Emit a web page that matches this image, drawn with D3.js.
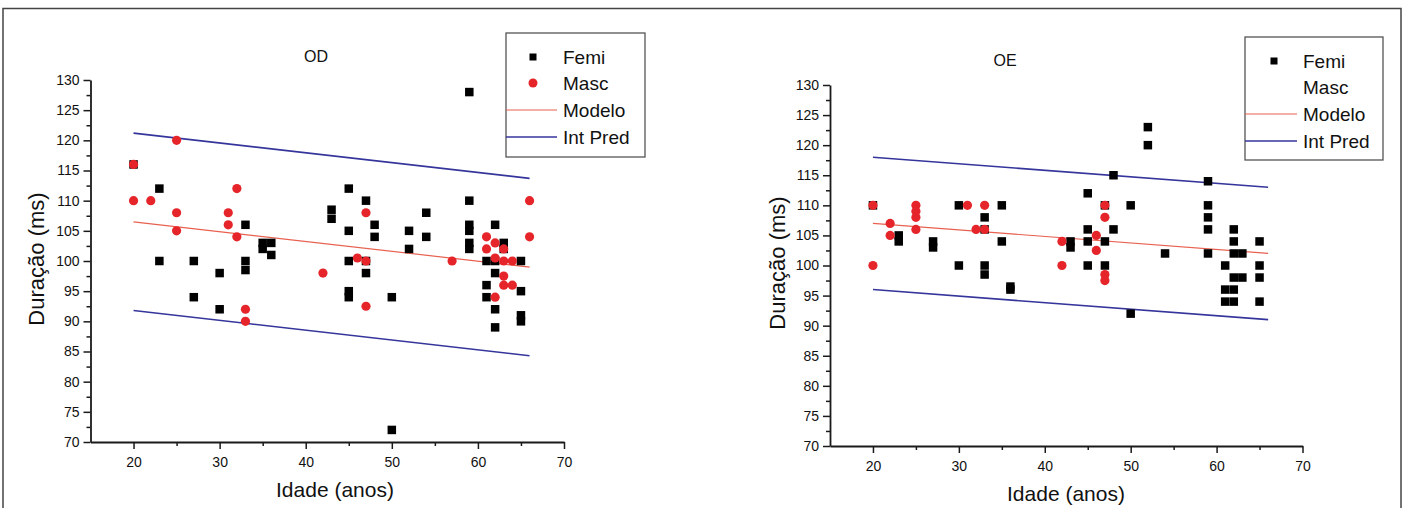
<!DOCTYPE html>
<html>
<head>
<meta charset="utf-8">
<script src="https://cdn.jsdelivr.net/npm/d3@7"></script>
<style>
	body { margin: 0; background: #fff; }
	svg text { font-family: "Liberation Sans", Arial, sans-serif; fill: #111; }
</style>
</head>
<body>
<svg id="chart" width="1405" height="508"></svg>
<script>
// DATA  [idade, duração]
const odFemi = [
	[20,116],[23,112],[23,100],[27,100],[27,94],[30,98],[30,92],[33,106],[33,100],[33,98.5],
	[35,103],[36,103],[35,102],[36,101],[43,108.5],[43,107],[45,112],[45,105],[45,100],[45,95],
	[45,94],[47,110],[47,100],[47,98],[48,106],[48,104],[50,94],[50,72],[52,105],[52,102],
	[54,108],[54,104],[59,128],[59,110],[59,106],[59,105],[59,103],[59,102],[61,100],[61,96],
	[61,94],[62,106],[62,100],[62,98],[62,92],[62,89],[63,103],[63,102],[65,100],[65,95],
	[65,91],[65,90]
];
const odMasc = [
	[20,116],[20,110],[22,110],[25,120],[25,108],[25,105],[31,108],[31,106],[32,112],[32,104],
	[33,92],[33,90],[42,98],[46,100.5],[47,100],[47,108],[47,92.5],[57,100],[61,104],[61,102],
	[62,103],[62,100.5],[62,94],[63,102],[63,100],[63,97.5],[63,96],[64,100],[64,96],[66,110],
	[66,104]
];
const odModelo = [[20,106.5],[66,99]];
const odPredUpper = [[20,121.2],[66,113.7]];
const odPredLower = [[20,91.8],[66,84.3]];

const oeFemi = [
	[20,110],[23,105],[23,104],[27,104],[27,103],[30,110],[30,100],[33,108],[33,106],[33,100],
	[33,98.5],[35,110],[35,104],[36,96.5],[36,96],[43,104],[43,103],[45,112],[45,106],[45,104],
	[45,100],[47,110],[47,104],[47,100],[48,115],[48,106],[50,110],[50,92],[52,123],[52,120],
	[54,102],[59,114],[59,110],[59,108],[59,106],[59,102],[61,100],[61,96],[61,94],[62,106],
	[62,104],[62,102],[62,98],[62,96],[62,94],[63,102],[63,98],[65,104],[65,100],[65,98],
	[65,94]
];
const oeMasc = [
	[20,110],[20,100],[22,107],[22,105],[25,110],[25,109],[25,108],[25,106],[31,110],[32,106],
	[33,110],[33,106],[42,104],[42,100],[46,105],[46,102.5],[47,110],[47,108],[47,98.5],[47,97.5]
];
const oeModelo = [[20,107],[66,102]];
const oePredUpper = [[20,118],[66,113]];
const oePredLower = [[20,96],[66,91]];

const ageDomain = [15, 70];
const durDomain = [70, 130];
const ageTicks = [20, 30, 40, 50, 60, 70];
const ageMinorTicks = [25, 35, 45, 55, 65];
const durTicks = [70, 75, 80, 85, 90, 95, 100, 105, 110, 115, 120, 125, 130];
const durMinorTicks = [72.5, 77.5, 82.5, 87.5, 92.5, 97.5, 102.5, 107.5, 112.5, 117.5, 122.5, 127.5];
const legendLabels = ['Femi', 'Masc', 'Modelo', 'Int Pred'];
const xTitle = 'Idade (anos)';
const yTitle = 'Duração (ms)';

const colors = { femi: '#000', masc: '#e5252a', modelo: '#e8604f', pred: '#35359c', axis: '#1a1a1a' };

const panels = [
	{ title: 'OD', femi: odFemi, masc: odMasc, modelo: odModelo, upper: odPredUpper, lower: odPredLower,
		box: { left: 90.5, right: 564, top: 80, bottom: 442 },
		titleAt: [316, 62], xTitleAt: [335, 497], yTitleAt: [44, 259],
		legend: { x: 506, y: 33, w: 139, h: 124, symX: 533, textX: 563, rows: [57, 83, 110, 137], lineEnd: 557, showMasc: true } },
	{ title: 'OE', femi: oeFemi, masc: oeMasc, modelo: oeModelo, upper: oePredUpper, lower: oePredLower,
		box: { left: 830, right: 1302.5, top: 85, bottom: 446 },
		titleAt: [1005, 66], xTitleAt: [1066, 501], yTitleAt: [785, 263],
		legend: { x: 1245, y: 37, w: 138, h: 123, symX: 1274, textX: 1303, rows: [61, 87, 114, 141], lineEnd: 1297, showMasc: false } }
];

const svg = d3.select('#chart');

// outer frame
svg.append('rect')
	.attr('x', 3).attr('y', 8.5)
	.attr('width', 1398).attr('height', 520)
	.attr('fill', 'none').attr('stroke', '#444').attr('stroke-width', 1.5);

function drawPanel(p) {
	const g = svg.append('g');
	const x = d3.scaleLinear().domain(ageDomain).range([p.box.left, p.box.right]);
	const y = d3.scaleLinear().domain(durDomain).range([p.box.bottom, p.box.top]);

	// Axes (minor ticks first, then major with labels)
	g.append('g')
		.attr('transform', `translate(0,${p.box.bottom})`)
		.call(d3.axisBottom(x).tickValues(ageMinorTicks).tickSize(4).tickFormat(''))
		.call(a => a.select('.domain').remove());
	g.append('g')
		.attr('transform', `translate(${p.box.left},0)`)
		.call(d3.axisLeft(y).tickValues(durMinorTicks).tickSize(4).tickFormat(''))
		.call(a => a.select('.domain').remove());
	const xAxis = g.append('g')
		.attr('transform', `translate(0,${p.box.bottom})`)
		.call(d3.axisBottom(x).tickValues(ageTicks).tickSize(7).tickSizeOuter(0).tickPadding(8));
	const yAxis = g.append('g')
		.attr('transform', `translate(${p.box.left},0)`)
		.call(d3.axisLeft(y).tickValues(durTicks).tickSize(7).tickSizeOuter(0).tickPadding(4));
	g.selectAll('.tick line').attr('stroke', colors.axis).attr('stroke-width', 1.5);
	g.selectAll('.domain').attr('stroke', colors.axis).attr('stroke-width', 1.8);
	[xAxis, yAxis].forEach(a => a.selectAll('text')
		.style('font-family', '"Liberation Sans", Arial, sans-serif')
		.style('font-size', '14px')
		.attr('fill', '#111'));

	// Lines
	const line = d3.line().x(d => x(d[0])).y(d => y(d[1]));
	g.append('path').datum(p.modelo).attr('d', line)
		.attr('fill', 'none').attr('stroke', colors.modelo).attr('stroke-width', 1.2);
	[p.upper, p.lower].forEach(s => g.append('path').datum(s).attr('d', line)
		.attr('fill', 'none').attr('stroke', colors.pred).attr('stroke-width', 1.6));

	// Points
	const sq = 8.5;
	g.append('g').selectAll('rect')
		.data(p.femi)
		.enter()
		.append('rect')
		.attr('x', d => x(d[0]) - sq / 2)
		.attr('y', d => y(d[1]) - sq / 2)
		.attr('width', sq).attr('height', sq)
		.attr('fill', colors.femi);
	g.append('g').selectAll('circle')
		.data(p.masc)
		.enter()
		.append('circle')
		.attr('cx', d => x(d[0]))
		.attr('cy', d => y(d[1]))
		.attr('r', 4.6)
		.attr('fill', colors.masc);

	// Titles
	g.append('text')
		.attr('x', p.titleAt[0]).attr('y', p.titleAt[1])
		.attr('text-anchor', 'middle')
		.style('font-size', '16px')
		.text(p.title);
	g.append('text')
		.attr('x', p.xTitleAt[0]).attr('y', p.xTitleAt[1])
		.attr('text-anchor', 'middle')
		.style('font-size', '21px')
		.text(xTitle);
	g.append('text')
		.attr('transform', `translate(${p.yTitleAt[0]},${p.yTitleAt[1]}) rotate(-90)`)
		.attr('text-anchor', 'middle')
		.style('font-size', '22px')
		.text(yTitle);

	// Legend
	const L = p.legend;
	const lg = g.append('g');
	lg.append('rect')
		.attr('x', L.x).attr('y', L.y)
		.attr('width', L.w).attr('height', L.h)
		.attr('fill', '#fff').attr('stroke', '#555').attr('stroke-width', 1.3);
	lg.append('rect')
		.attr('x', L.symX - 3.5).attr('y', L.rows[0] - 3.5)
		.attr('width', 7).attr('height', 7)
		.attr('fill', colors.femi);
	if (L.showMasc)
		lg.append('circle')
			.attr('cx', L.symX).attr('cy', L.rows[1])
			.attr('r', 4.5).attr('fill', colors.masc);
	lg.append('line')
		.attr('x1', L.x).attr('x2', L.lineEnd)
		.attr('y1', L.rows[2]).attr('y2', L.rows[2])
		.attr('stroke', colors.modelo).attr('stroke-width', 1.2);
	lg.append('line')
		.attr('x1', L.x).attr('x2', L.lineEnd)
		.attr('y1', L.rows[3]).attr('y2', L.rows[3])
		.attr('stroke', colors.pred).attr('stroke-width', 1.4);
	lg.selectAll('text.lbl')
		.data(legendLabels)
		.enter()
		.append('text')
		.attr('class', 'lbl')
		.attr('x', L.textX)
		.attr('y', (d, i) => L.rows[i])
		.attr('dy', '0.36em')
		.style('font-size', '19px')
		.text(d => d);
}

panels.forEach(drawPanel);
</script>
</body>
</html>
